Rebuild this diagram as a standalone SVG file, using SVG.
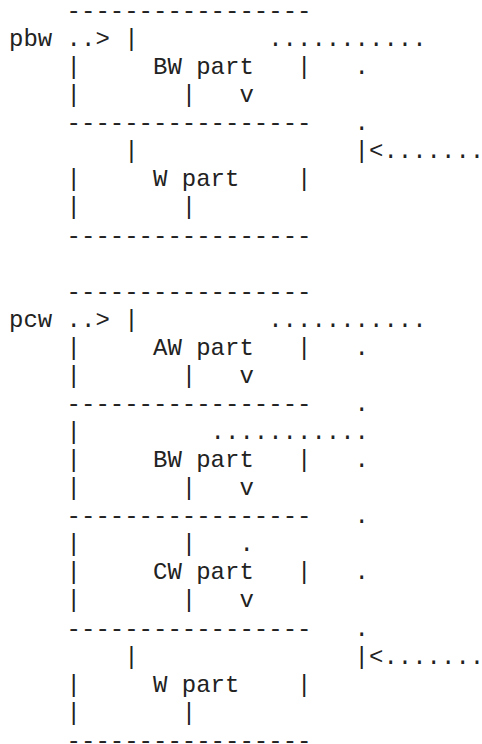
<svg xmlns="http://www.w3.org/2000/svg" width="482" height="744" viewBox="0 0 482 744">
<style>
text{font-family:"Liberation Mono","Courier New",monospace;font-size:24px;fill:#222;white-space:pre}
</style>
<rect x="0" y="0" width="482" height="744" fill="#fff"/>
<g id="pbw-label">
<text x="9" y="46.07">pbw</text>
</g>
<g id="pbw-bw-part">
<text x="66.6" y="18">-----------------</text>
<text x="124.2" y="46.07">|</text>
<text x="66.6" y="74.14">|</text><text x="153" y="74.14">BW part</text><text x="297" y="74.14">|</text>
<text x="66.6" y="102.21">|</text><text x="181.8" y="102.21">|</text>
<text x="66.6" y="130.28">-----------------</text>
</g>
<g id="pbw-w-part">
<text x="124.2" y="158.35">|</text>
<text x="66.6" y="186.42">|</text><text x="153" y="186.42">W part</text><text x="297" y="186.42">|</text>
<text x="66.6" y="214.49">|</text><text x="181.8" y="214.49">|</text>
<text x="66.6" y="242.56">-----------------</text>
</g>
<g id="pcw-label">
<text x="9" y="326.77">pcw</text>
</g>
<g id="pcw-aw-part">
<text x="66.6" y="298.7">-----------------</text>
<text x="124.2" y="326.77">|</text>
<text x="66.6" y="354.84">|</text><text x="153" y="354.84">AW part</text><text x="297" y="354.84">|</text>
<text x="66.6" y="382.91">|</text><text x="181.8" y="382.91">|</text>
<text x="66.6" y="410.98">-----------------</text>
</g>
<g id="pcw-bw-part">
<text x="66.6" y="439.05">|</text>
<text x="66.6" y="467.12">|</text><text x="153" y="467.12">BW part</text><text x="297" y="467.12">|</text>
<text x="66.6" y="495.19">|</text><text x="181.8" y="495.19">|</text>
<text x="66.6" y="523.26">-----------------</text>
</g>
<g id="pcw-cw-part">
<text x="66.6" y="551.33">|</text><text x="181.8" y="551.33">|</text>
<text x="66.6" y="579.4">|</text><text x="153" y="579.4">CW part</text><text x="297" y="579.4">|</text>
<text x="66.6" y="607.47">|</text><text x="181.8" y="607.47">|</text>
<text x="66.6" y="635.54">-----------------</text>
</g>
<g id="pcw-w-part">
<text x="124.2" y="663.61">|</text>
<text x="66.6" y="691.68">|</text><text x="153" y="691.68">W part</text><text x="297" y="691.68">|</text>
<text x="66.6" y="719.75">|</text><text x="181.8" y="719.75">|</text>
<text x="66.6" y="747.82">-----------------</text>
</g>
<g id="connectors">
<text x="66.6" y="46.07">..&gt;</text>
<text x="268.2" y="46.07">...........</text>
<text x="354.6" y="74.14">.</text>
<text x="239.4" y="102.21">v</text>
<text x="354.6" y="130.28">.</text>
<text x="354.6" y="158.35">|&lt;.......</text>
<text x="66.6" y="326.77">..&gt;</text>
<text x="268.2" y="326.77">...........</text>
<text x="354.6" y="354.84">.</text>
<text x="239.4" y="382.91">v</text>
<text x="354.6" y="410.98">.</text>
<text x="210.6" y="439.05">...........</text>
<text x="354.6" y="467.12">.</text>
<text x="239.4" y="495.19">v</text>
<text x="354.6" y="523.26">.</text>
<text x="239.4" y="551.33">.</text>
<text x="354.6" y="579.4">.</text>
<text x="239.4" y="607.47">v</text>
<text x="354.6" y="635.54">.</text>
<text x="354.6" y="663.61">|&lt;.......</text>
</g>
</svg>
